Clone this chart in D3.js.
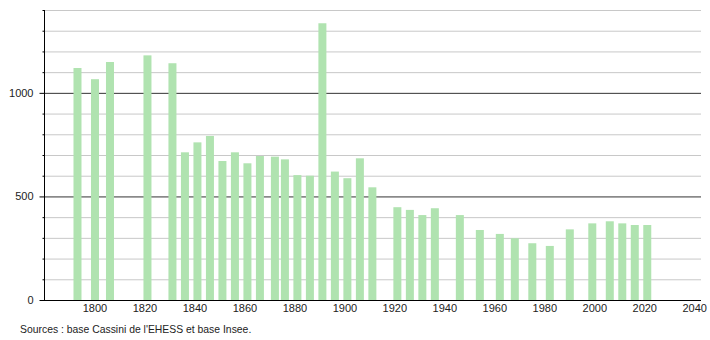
<!DOCTYPE html>
<html>
<head>
<meta charset="utf-8">
<script src="https://cdn.jsdelivr.net/npm/d3@7"></script>
<style>
  body { margin: 0; background: #fff; }
  svg text { font-family: "Liberation Sans", Arial, sans-serif; }
</style>
</head>
<body>
<div id="chart"></div>
<script>
// census years and population
const years = [1793, 1800, 1806, 1821, 1831, 1836, 1841, 1846, 1851, 1856,
               1861, 1866, 1872, 1876, 1881, 1886, 1891, 1896, 1901, 1906,
               1911, 1921, 1926, 1931, 1936, 1946, 1954, 1962, 1968, 1975,
               1982, 1990, 1999, 2006, 2011, 2016, 2021]
const population = [1120, 1066, 1149, 1181, 1143, 713, 761, 792, 671, 713,
                    660, 695, 692, 679, 603, 600, 1336, 620, 588, 684,
                    544, 448, 435, 410, 443, 410, 338, 319, 298, 274,
                    261, 341, 370, 380, 370, 362, 362]
const xTicks = [1800, 1820, 1840, 1860, 1880, 1900, 1920, 1940, 1960, 1980, 2000, 2020, 2040]
const yTicks = [0, 500, 1000]
const source = "Sources : base Cassini de l'EHESS et base Insee."

const width = 710,
      height = 340,
      margin = { top: 10, right: 9, bottom: 40, left: 44 },
      barWidth = 8

const svg = d3.select('#chart')
  .append('svg')
  .attr('width', width)
  .attr('height', height)

const x = d3.scaleLinear()
  .domain([1779.6, 2042.5])
  .range([margin.left, width - margin.right])

const y = d3.scaleLinear()
  .domain([0, 1400])
  .range([height - margin.bottom, margin.top])

// light grid every 100
svg.append('g')
  .selectAll('line')
  .data(d3.range(100, 1401, 100).filter(d => d % 500 !== 0))
  .enter()
  .append('line')
    .attr('x1', margin.left)
    .attr('x2', width - margin.right)
    .attr('y1', d => y(d) + 0.5)
    .attr('y2', d => y(d) + 0.5)
    .attr('stroke', '#c8c8c8')

// dark grid at labelled values
svg.append('g')
  .selectAll('line')
  .data(yTicks.filter(d => d > 0))
  .enter()
  .append('line')
    .attr('x1', margin.left)
    .attr('x2', width - margin.right)
    .attr('y1', d => y(d) + 0.5)
    .attr('y2', d => y(d) + 0.5)
    .attr('stroke', '#333')

// bars
svg.append('g')
  .selectAll('rect')
  .data(years)
  .enter()
  .append('rect')
    .attr('x', d => x(d) - barWidth / 2)
    .attr('y', (d, i) => y(population[i]))
    .attr('width', barWidth)
    .attr('height', (d, i) => y(0) - y(population[i]))
    .attr('fill', '#b0e3b0')

// y axis
const yAxis = svg.append('g')
  .attr('transform', `translate(${margin.left + 0.5},0)`)
yAxis.append('line')
  .attr('y1', y(1400))
  .attr('y2', y(0))
  .attr('stroke', '#000')
yAxis.selectAll('line.minor')
  .data(d3.range(100, 1401, 100))
  .enter()
  .append('line')
    .attr('class', 'minor')
    .attr('x1', d => d % 500 === 0 ? -5 : -2)
    .attr('x2', 0)
    .attr('y1', d => y(d) + 0.5)
    .attr('y2', d => y(d) + 0.5)
    .attr('stroke', '#000')
yAxis.append('line')
  .attr('x1', -5)
  .attr('x2', 0)
  .attr('y1', y(0) + 0.5)
  .attr('y2', y(0) + 0.5)
  .attr('stroke', '#000')
yAxis.selectAll('text')
  .data(yTicks)
  .enter()
  .append('text')
    .attr('x', -11)
    .attr('y', d => y(d) + 4)
    .attr('text-anchor', 'end')
    .attr('font-size', 11)
    .attr('fill', '#222')
    .text(d => d)

// x axis
svg.append('line')
  .attr('x1', margin.left)
  .attr('x2', width - margin.right)
  .attr('y1', y(0) + 0.5)
  .attr('y2', y(0) + 0.5)
  .attr('stroke', '#000')
svg.append('g')
  .selectAll('text')
  .data(xTicks)
  .enter()
  .append('text')
    .attr('x', d => x(d))
    .attr('y', y(0) + 12)
    .attr('text-anchor', 'middle')
    .attr('font-size', 11)
    .attr('fill', '#222')
    .text(d => d)

svg.append('text')
  .attr('x', 20)
  .attr('y', 333)
  .attr('font-size', 10.4)
  .attr('fill', '#222')
  .text(source)
</script>
</body>
</html>
